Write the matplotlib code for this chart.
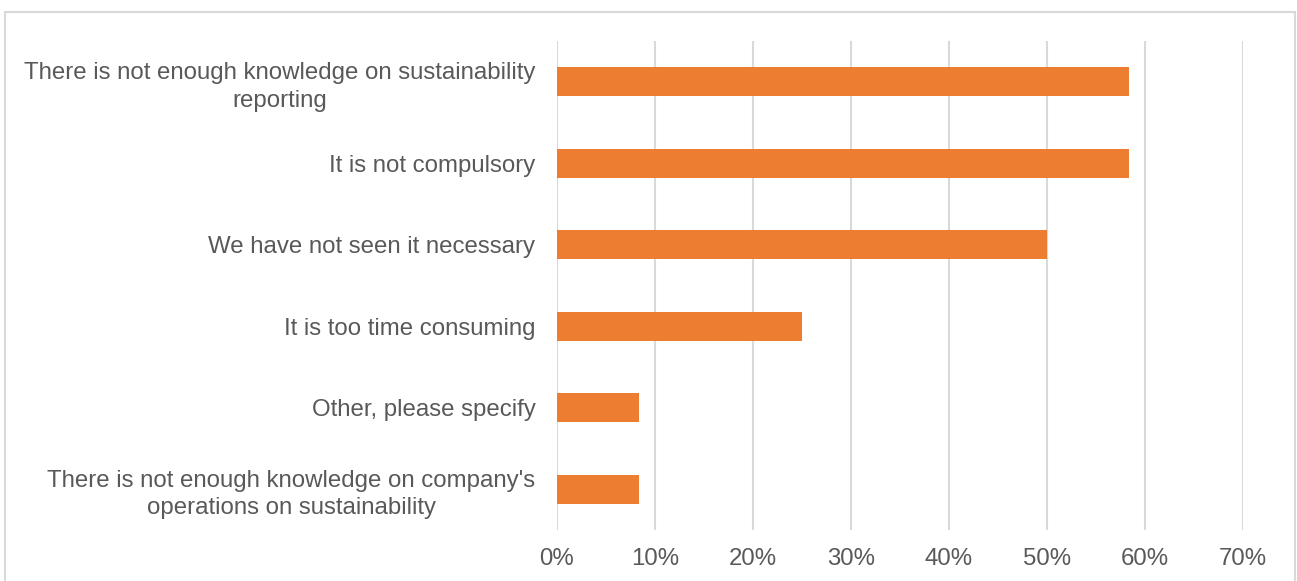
import matplotlib.pyplot as plt
from matplotlib.patches import Rectangle
from matplotlib.ticker import FuncFormatter

plt.rcParams['font.family'] = ['Liberation Sans', 'DejaVu Sans']

reasons = [
    "There is not enough knowledge on sustainability\nreporting",
    "It is not compulsory",
    "We have not seen it necessary",
    "It is too time consuming",
    "Other, please specify",
    "There is not enough knowledge on company's\noperations on sustainability",
]
shares = [58.33, 58.33, 50.0, 25.0, 8.33, 8.33]

grey_text = '#595959'
grid_col = '#D9D9D9'
bar_col = '#ED7D31'

fig = plt.figure(figsize=(12.97, 5.81), dpi=100)
ax = fig.add_axes([557 / 1297, 1 - 530 / 581, (1243 - 557) / 1297, 489 / 581])

pos = list(range(len(reasons)))[::-1]
ax.barh(pos, shares, height=0.36, color=bar_col, zorder=3)

ax.set_xlim(0, 70)
ax.set_ylim(-0.5, len(reasons) - 0.5)
ax.set_xticks(range(0, 71, 10))
ax.xaxis.set_major_formatter(FuncFormatter(lambda v, p: f"{v:.0f}%"))
ax.set_yticks(pos)
ax.set_yticklabels(reasons, multialignment='center', linespacing=1.32)

ax.grid(axis='x', color=grid_col, linewidth=1.5, zorder=0)
for s in ax.spines.values():
    s.set_visible(False)
ax.tick_params(axis='both', length=0, labelsize=17.3, colors=grey_text)
ax.tick_params(axis='x', pad=13)
ax.tick_params(axis='y', pad=15.5)

# outer chart frame
fig.patches.append(Rectangle((5 / 1297, -0.01), 1290 / 1297, 1 - 12 / 581 + 0.01,
                             transform=fig.transFigure, fill=False,
                             edgecolor=grid_col, linewidth=1.5))

fig.savefig('out.png', dpi=100)
